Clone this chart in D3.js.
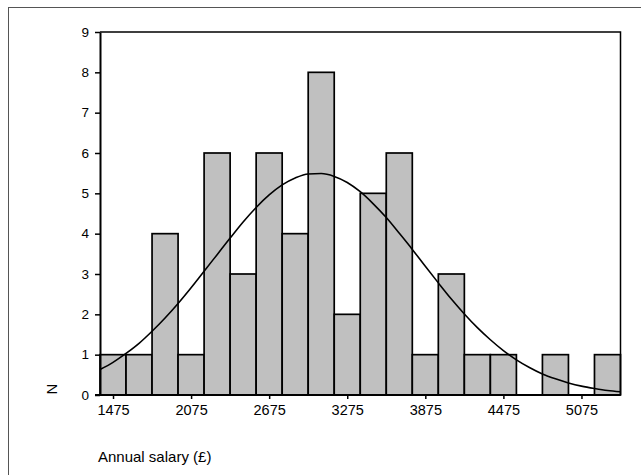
<!DOCTYPE html>
<html lang="en">
<head>
<meta charset="UTF-8">
<title>Annual salary histogram</title>
<style>
    * { margin: 0; padding: 0; }
    body { background: #fff; }
    text { font-family: Arial, "Liberation Sans", sans-serif; fill: #000; }
</style>
</head>
<body>
<div id="chart"></div>
<script src="https://cdn.jsdelivr.net/npm/d3@7"></script>
<script>
    // bin centres (£) and counts
    const binCenters = [1475, 1675, 1875, 2075, 2275, 2475, 2675, 2875, 3075, 3275,
        3475, 3675, 3875, 4075, 4275, 4475, 4675, 4875, 5075, 5275]
    const counts = [1, 1, 4, 1, 6, 3, 6, 4, 8, 2, 5, 6, 1, 3, 1, 1, 0, 1, 0, 1]
    const binWidth = 200

    // fitted normal curve, every £100
    const curveX = [1375, 1475, 1575, 1675, 1775, 1875, 1975, 2075, 2175, 2275,
        2375, 2475, 2575, 2675, 2775, 2875, 2975, 3075, 3175, 3275,
        3375, 3475, 3575, 3675, 3775, 3875, 3975, 4075, 4175, 4275,
        4375, 4475, 4575, 4675, 4775, 4875, 4975, 5075, 5175, 5275, 5375]
    const curveY = [0.63, 0.81, 1.03, 1.28, 1.58, 1.91, 2.27, 2.66, 3.07, 3.48,
        3.89, 4.29, 4.65, 4.96, 5.21, 5.38, 5.48, 5.49, 5.42, 5.27,
        5.04, 4.74, 4.40, 4.01, 3.61, 3.19, 2.78, 2.38, 2.01, 1.67,
        1.37, 1.10, 0.87, 0.68, 0.52, 0.40, 0.30, 0.22, 0.16, 0.11, 0.08]

    const xTicks = [1475, 2075, 2675, 3275, 3875, 4475, 5075]
    const yTicks = [0, 1, 2, 3, 4, 5, 6, 7, 8, 9]

    const width = 641
    const height = 475
    const margin = { top: 32, right: 20, bottom: 80, left: 100 }

    const svg = d3.select('#chart')
        .append('svg')
        .attr('width', width)
        .attr('height', height)

    // outer frame
    svg.append('rect')
        .attr('x', 8.5)
        .attr('y', 7.5)
        .attr('width', 700)
        .attr('height', 600)
        .attr('fill', 'none')
        .attr('stroke', '#555')
        .attr('stroke-width', 1)

    const x = d3.scaleLinear()
        .domain([binCenters[0] - binWidth / 2, binCenters[binCenters.length - 1] + binWidth / 2])
        .range([margin.left, width - margin.right - 0.5])

    const y = d3.scaleLinear()
        .domain([0, 9])
        .range([height - margin.bottom, margin.top])

    // bars
    svg.append('g')
        .selectAll('rect')
        .data(binCenters.map((c, i) => ({ c, n: counts[i] })).filter(d => d.n > 0))
        .join('rect')
        .attr('x', d => x(d.c - binWidth / 2))
        .attr('y', d => y(d.n))
        .attr('width', d => x(d.c + binWidth / 2) - x(d.c - binWidth / 2))
        .attr('height', d => y(0) - y(d.n))
        .attr('fill', '#c0c0c0')
        .attr('stroke', '#000')
        .attr('stroke-width', 1.7)

    // normal curve
    const line = d3.line()
        .x((d, i) => x(curveX[i]))
        .y(d => y(d))
        .curve(d3.curveMonotoneX)

    svg.append('path')
        .datum(curveY)
        .attr('d', line)
        .attr('fill', 'none')
        .attr('stroke', '#000')
        .attr('stroke-width', 1.6)

    // frame top and right
    svg.append('path')
        .attr('d', `M${x.range()[0]},${y(9)}H${x.range()[1]}V${y(0)}`)
        .attr('fill', 'none')
        .attr('stroke', '#000')
        .attr('stroke-width', 1.5)

    // y axis
    const yAxis = svg.append('g')
        .attr('transform', `translate(${margin.left}, 0)`)
        .call(d3.axisLeft(y).tickValues(yTicks).tickSize(5).tickPadding(6).tickSizeOuter(0))
    yAxis.select('.domain').attr('stroke-width', 2)
    yAxis.selectAll('.tick line').attr('stroke-width', 1.5)
    yAxis.selectAll('text').style('font-size', '13.5px').attr('font-family', null)

    // x axis
    const xAxis = svg.append('g')
        .attr('transform', `translate(0, ${y(0)})`)
        .call(d3.axisBottom(x).tickValues(xTicks).tickFormat(d3.format('d')).tickSize(4).tickPadding(6).tickSizeOuter(0))
    xAxis.select('.domain').attr('stroke-width', 2)
        .attr('d', `M${margin.left - 5},0H${x.range()[1]}`)
    xAxis.selectAll('.tick line').attr('stroke-width', 1.5)
    xAxis.selectAll('text').style('font-size', '14.5px').attr('font-family', null)

    // axis titles
    svg.append('text')
        .attr('x', 98)
        .attr('y', 462)
        .text('Annual salary (£)')
        .style('font-size', '15px')

    svg.append('text')
        .attr('transform', 'translate(57, 389) rotate(-90)')
        .attr('text-anchor', 'middle')
        .text('N')
        .style('font-size', '15px')
</script>
</body>
</html>
